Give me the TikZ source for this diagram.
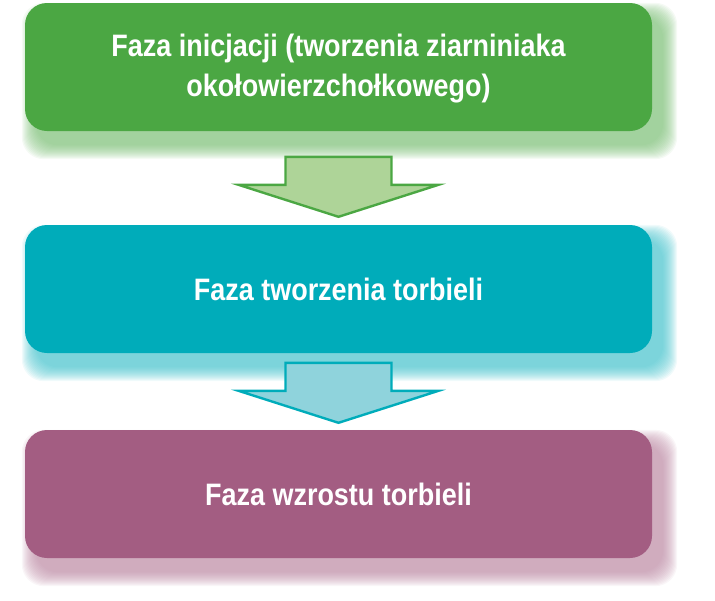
\documentclass[tikz,border=0pt]{standalone}
\usepackage{fontspec}
\setmainfont{Liberation Sans}[FakeStretch=0.87]
\usetikzlibrary{calc,backgrounds}
\definecolor{cgreen}{RGB}{75,167,67}
\definecolor{lgreen}{RGB}{174,212,152}
\definecolor{ccyan}{RGB}{0,172,186}
\definecolor{lcyan}{RGB}{143,211,220}
\definecolor{cpurple}{RGB}{163,93,130}
\tikzset{
  phase/.style={rounded corners=22pt, minimum width=627pt, minimum height=128pt,
    inner sep=0pt, text=white, align=center,
    font=\bfseries\fontsize{31}{40}\selectfont},
  blockarrow/.style={line width=2.4pt, line join=miter},
}
\newcommand\softshadow[2]{%
  \foreach \e in {14,13,...,0}{
    \fill[#2, opacity=0.075, rounded corners=22pt]
      ($(#1.south west)+(11-\e,14+\e)$) rectangle ($(#1.north east)+(11+\e,14-\e)$);
  }%
}
\newcommand\blockarrowat[3]{% tip coordinate, draw colour, fill colour
  \draw[blockarrow, draw=#2, fill=#3]
    ($(#1)+(-53,-60)$) -- ($(#1)+(53,-60)$) -- ($(#1)+(53,-32)$) -- ($(#1)+(100,-32)$)
    -- (#1) -- ($(#1)+(-100,-32)$) -- ($(#1)+(-53,-32)$) -- cycle;
}
\begin{document}
\begin{tikzpicture}[x=1pt,y=-1pt]
  \useasboundingbox (0,0) rectangle (715,600);
  \node[phase, fill=cgreen, text depth=4pt] (g) at (338.5,67) {Faza inicjacji (tworzenia ziarniniaka\\okołowierzchołkowego)};
  \node[phase, fill=ccyan] (c) at (338.5,289) {Faza tworzenia torbieli};
  \node[phase, fill=cpurple] (p) at (338.5,494) {Faza wzrostu torbieli};
  \begin{scope}[on background layer]
    \softshadow{g}{cgreen!75}
    \softshadow{c}{ccyan!75}
    \softshadow{p}{cpurple!75}
  \end{scope}
  \coordinate (t1) at ($(c.north)+(0,-8)$);
  \coordinate (t2) at ($(p.north)+(0,-7)$);
  \blockarrowat{t1}{cgreen}{lgreen}
  \blockarrowat{t2}{ccyan}{lcyan}
\end{tikzpicture}
\end{document}
